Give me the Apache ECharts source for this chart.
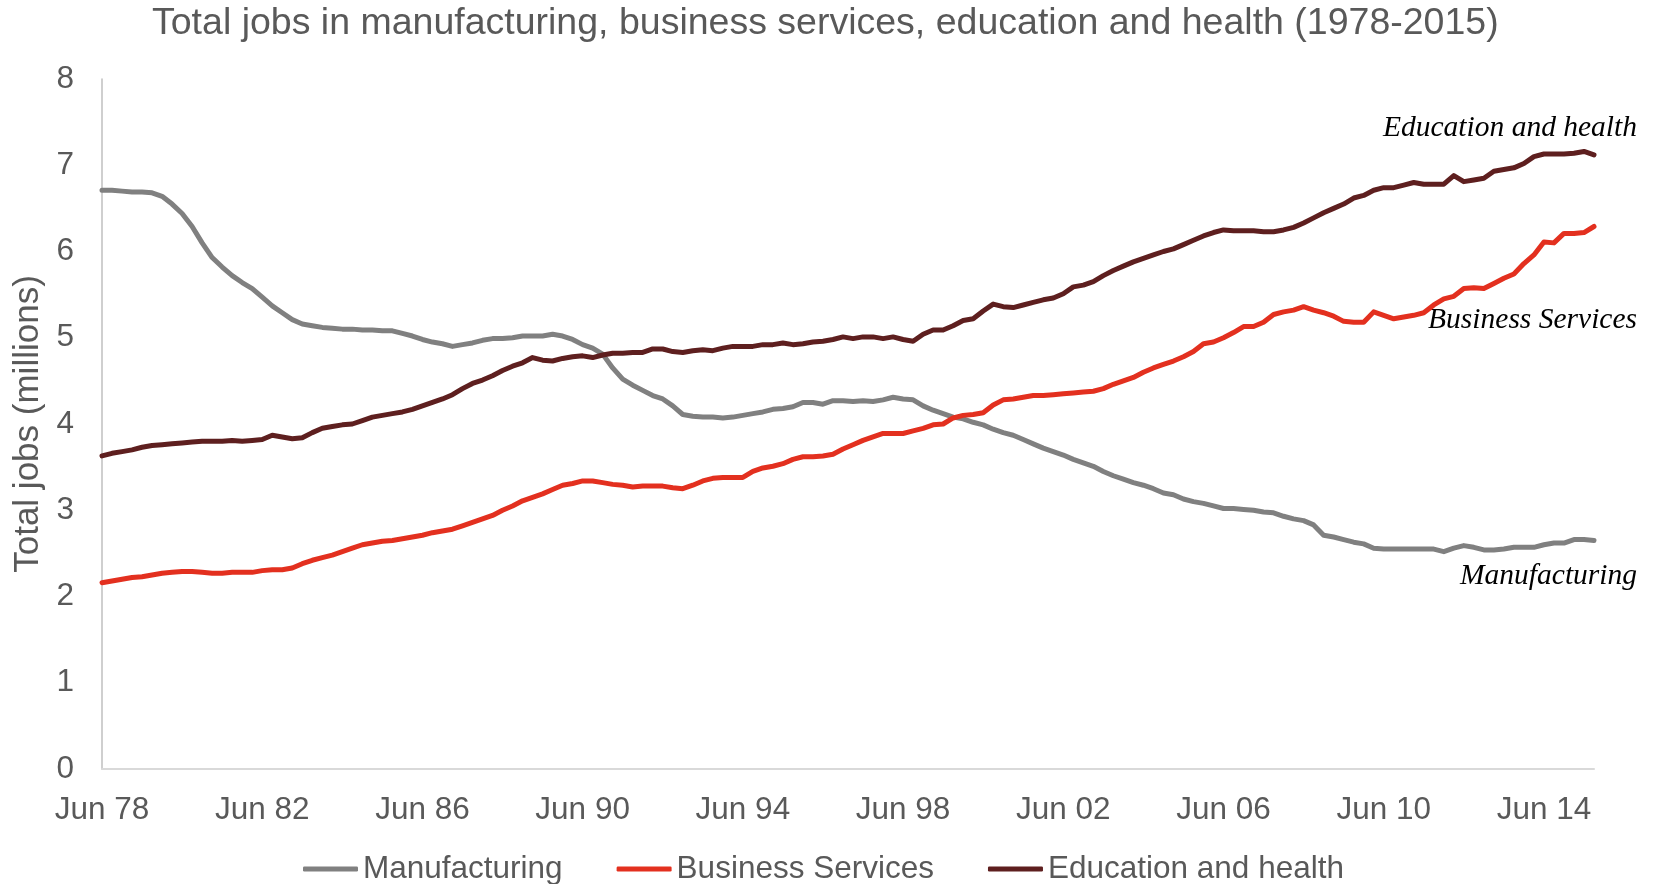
<!DOCTYPE html>
<html>
<head>
<meta charset="utf-8">
<title>Total jobs in manufacturing, business services, education and health (1978-2015)</title>
<script src="https://cdn.jsdelivr.net/npm/echarts@6/dist/echarts.min.js"></script>
<style>
  html, body { margin: 0; padding: 0; background: #ffffff; }
  #chart { width: 1653px; height: 884px; }
</style>
</head>
<body>
<div id="chart"></div>
<script>
// Quarterly series, Jun 1978 through Sep 2015, in millions of jobs
const firstYear = 1978;
const firstQuarter = 1; // 0 = Mar, 1 = Jun, 2 = Sep, 3 = Dec
const quarterCount = 150;
const monthNames = ['Mar', 'Jun', 'Sep', 'Dec'];

const manufacturing = [
  6.71, 6.71, 6.70, 6.69, 6.69, 6.68, 6.64, 6.55, 6.44, 6.29,
  6.10, 5.93, 5.82, 5.72, 5.64, 5.57, 5.47, 5.37, 5.29, 5.21,
  5.16, 5.14, 5.12, 5.11, 5.10, 5.10, 5.09, 5.09, 5.08, 5.08,
  5.05, 5.02, 4.98, 4.95, 4.93, 4.90, 4.92, 4.94,
  4.97, 4.99, 4.99, 5.00, 5.02, 5.02, 5.02, 5.04, 5.02, 4.98,
  4.92, 4.88, 4.81, 4.65, 4.52, 4.45, 4.39, 4.33, 4.29, 4.21,
  4.11, 4.09, 4.08, 4.08, 4.07, 4.08, 4.10, 4.12, 4.14, 4.17,
  4.18, 4.20, 4.25, 4.25, 4.23, 4.27, 4.27, 4.26,
  4.27, 4.26, 4.28, 4.31, 4.29, 4.28, 4.21, 4.16, 4.12, 4.08,
  4.06, 4.02, 3.99, 3.94, 3.90, 3.87, 3.82, 3.77, 3.72, 3.68,
  3.64, 3.59, 3.55, 3.51, 3.45, 3.40, 3.36, 3.32, 3.29, 3.25,
  3.20, 3.18, 3.13, 3.10, 3.08, 3.05, 3.02, 3.02,
  3.01, 3.00, 2.98, 2.97, 2.93, 2.90, 2.88, 2.83, 2.71, 2.69,
  2.66, 2.63, 2.61, 2.56, 2.55, 2.55, 2.55, 2.55, 2.55, 2.55,
  2.52, 2.56, 2.59, 2.57, 2.54, 2.54, 2.55, 2.57, 2.57, 2.57,
  2.60, 2.62, 2.62, 2.66, 2.66, 2.65
];

const businessServices = [
  2.16, 2.18, 2.20, 2.22, 2.23, 2.25, 2.27, 2.28, 2.29, 2.29,
  2.28, 2.27, 2.27, 2.28, 2.28, 2.28, 2.30, 2.31, 2.31, 2.33,
  2.38, 2.42, 2.45, 2.48, 2.52, 2.56, 2.60, 2.62, 2.64, 2.65,
  2.67, 2.69, 2.71, 2.74, 2.76, 2.78, 2.82, 2.86,
  2.90, 2.94, 3.00, 3.05, 3.11, 3.15, 3.19, 3.24, 3.29, 3.31,
  3.34, 3.34, 3.32, 3.30, 3.29, 3.27, 3.28, 3.28, 3.28, 3.26,
  3.25, 3.29, 3.34, 3.37, 3.38, 3.38, 3.38, 3.45, 3.49, 3.51,
  3.54, 3.59, 3.62, 3.62, 3.63, 3.65, 3.71, 3.76,
  3.81, 3.85, 3.89, 3.89, 3.89, 3.92, 3.95, 3.99, 4.00, 4.07,
  4.10, 4.11, 4.13, 4.22, 4.28, 4.29, 4.31, 4.33, 4.33, 4.34,
  4.35, 4.36, 4.37, 4.38, 4.41, 4.46, 4.50, 4.54, 4.60, 4.65,
  4.69, 4.73, 4.78, 4.84, 4.93, 4.95, 5.00, 5.06,
  5.13, 5.13, 5.18, 5.27, 5.30, 5.32, 5.36, 5.32, 5.29, 5.25,
  5.19, 5.18, 5.18, 5.30, 5.26, 5.22, 5.24, 5.26, 5.29, 5.38,
  5.45, 5.48, 5.57, 5.58, 5.57, 5.63, 5.69, 5.74, 5.86, 5.96,
  6.11, 6.10, 6.21, 6.21, 6.22, 6.29
];

const educationHealth = [
  3.63, 3.66, 3.68, 3.70, 3.73, 3.75, 3.76, 3.77, 3.78, 3.79,
  3.80, 3.80, 3.80, 3.81, 3.80, 3.81, 3.82, 3.87, 3.85, 3.83,
  3.84, 3.90, 3.95, 3.97, 3.99, 4.00, 4.04, 4.08, 4.10, 4.12,
  4.14, 4.17, 4.21, 4.25, 4.29, 4.34, 4.41, 4.47,
  4.51, 4.56, 4.62, 4.67, 4.71, 4.77, 4.74, 4.73, 4.76, 4.78,
  4.79, 4.77, 4.80, 4.82, 4.82, 4.83, 4.83, 4.87, 4.87, 4.84,
  4.83, 4.85, 4.86, 4.85, 4.88, 4.90, 4.90, 4.90, 4.92, 4.92,
  4.94, 4.92, 4.93, 4.95, 4.96, 4.98, 5.01, 4.99,
  5.01, 5.01, 4.99, 5.01, 4.98, 4.96, 5.04, 5.09, 5.09, 5.14,
  5.20, 5.22, 5.31, 5.39, 5.36, 5.35, 5.38, 5.41, 5.44, 5.46,
  5.51, 5.59, 5.61, 5.65, 5.72, 5.78, 5.83, 5.88, 5.92, 5.96,
  6.00, 6.03, 6.08, 6.13, 6.18, 6.22, 6.25, 6.24,
  6.24, 6.24, 6.23, 6.23, 6.25, 6.28, 6.33, 6.39, 6.45, 6.50,
  6.55, 6.62, 6.65, 6.71, 6.74, 6.74, 6.77, 6.80, 6.78, 6.78,
  6.78, 6.88, 6.81, 6.83, 6.85, 6.93, 6.95, 6.97, 7.02, 7.10,
  7.13, 7.13, 7.13, 7.14, 7.16, 7.12
];

const seriesNames = ['Manufacturing', 'Business Services', 'Education and health'];
const seriesColors = ['#808080', '#e3301f', '#5e1f1f'];
const yTicks = { min: 0, max: 8, step: 1 };

// Quarter labels: "Jun 78", "Sep 78", ...
const quarters = [];
for (let k = 0; k < quarterCount; k++) {
  const q = firstQuarter + k;
  const year = firstYear + Math.floor(q / 4);
  quarters.push(monthNames[q % 4] + ' ' + String(year % 100).padStart(2, '0'));
}

const sans = '"Liberation Sans", Arial, sans-serif';
const serif = '"Liberation Serif", "Times New Roman", serif';
const gray = '#595959';

const chart = echarts.init(document.getElementById('chart'), null, { renderer: 'canvas' });

function lineSeries(name, data, color) {
  return {
    name: name,
    type: 'line',
    data: data,
    symbol: 'none',
    smooth: false,
    color: color,
    lineStyle: { width: 5, color: color, cap: 'round', join: 'round' },
    emphasis: { disabled: true }
  };
}

chart.setOption({
  backgroundColor: '#ffffff',
  animation: false,
  title: {
    text: 'Total jobs in manufacturing, business services, education and health (1978-2015)',
    left: 152,
    top: 5,
    padding: 0,
    textStyle: { fontFamily: sans, fontSize: 37.5, fontWeight: 'normal', color: gray }
  },
  grid: { left: 102, right: 59, top: 79, bottom: 115, containLabel: false },
  legend: {
    data: seriesNames.map(function (n) { return { name: n, icon: 'roundRect' }; }),
    left: 303,
    top: 853,
    padding: 0,
    itemGap: 54,
    itemWidth: 55,
    itemHeight: 5,
    textStyle: { fontFamily: sans, fontSize: 31.5, color: gray }
  },
  xAxis: {
    type: 'category',
    data: quarters,
    boundaryGap: false,
    axisLine: { show: true, lineStyle: { color: '#d9d9d9', width: 2 } },
    axisTick: { show: false },
    axisLabel: {
      interval: 15,
      margin: 25,
      fontFamily: sans,
      fontSize: 31.5,
      color: gray
    },
    splitLine: { show: false }
  },
  yAxis: {
    type: 'value',
    min: yTicks.min,
    max: yTicks.max,
    interval: yTicks.step,
    name: 'Total jobs (millions)',
    nameLocation: 'middle',
    nameGap: 54,
    nameTextStyle: { fontFamily: sans, fontSize: 35, color: gray },
    axisLine: { show: true, lineStyle: { color: '#bfbfbf', width: 1.5 } },
    axisTick: { show: false },
    axisLabel: { margin: 28, fontFamily: sans, fontSize: 31.5, color: gray },
    splitLine: { show: false }
  },
  series: [
    lineSeries(seriesNames[0], manufacturing, seriesColors[0]),
    lineSeries(seriesNames[1], businessServices, seriesColors[1]),
    lineSeries(seriesNames[2], educationHealth, seriesColors[2])
  ],
  graphic: [
    {
      type: 'text', right: 16, top: 113,
      style: { text: 'Education and health', font: 'italic 29.5px ' + serif, fill: '#000000' }
    },
    {
      type: 'text', right: 16, top: 305,
      style: { text: 'Business Services', font: 'italic 29.5px ' + serif, fill: '#000000' }
    },
    {
      type: 'text', right: 16, top: 561,
      style: { text: 'Manufacturing', font: 'italic 29.5px ' + serif, fill: '#000000' }
    }
  ]
});
</script>
</body>
</html>
